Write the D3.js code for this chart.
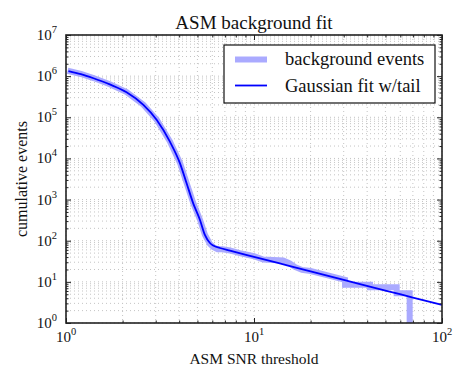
<!DOCTYPE html>
<html>
<head>
<meta charset="utf-8">
<script src="https://cdn.jsdelivr.net/npm/d3@7"></script>
<style>
  html, body { margin: 0; padding: 0; background: #fff; }
  svg { display: block; font-family: "Liberation Serif", "DejaVu Serif", serif; }
</style>
</head>
<body>
<svg id="chart" width="471" height="386"></svg>
<script>
// ---- data ----
const fitSNR   = [1.03, 1.2, 1.4, 1.71, 2.1, 2.58, 3.04, 3.57, 4.04, 4.38, 4.75, 5.16, 5.48, 5.83, 6.07, 6.59, 7.45, 10, 15, 20, 30, 50, 70, 100];
const fitCount = [1.33e6, 1.12e6, 8.9e5, 6.3e5, 4.05e5, 2.0e5, 8.6e4, 2.55e4, 7.6e3, 2.5e3, 810, 320, 138, 88, 76, 66.5, 57.2, 40.5, 25.2, 18.0, 11.2, 6.16, 4.16, 2.74];

const bgSNR   = [1.02, 1.2, 1.4, 1.71, 2.1, 2.58, 3.04, 3.57, 4.04, 4.38, 4.75, 5.16, 5.48, 5.83, 6.07, 6.4, 6.8, 7.45, 8.4, 10, 11.2, 14.3, 15.5, 16.5, 18, 20, 25, 30.5, 30.5, 41.4, 41.4, 57.4, 57.4, 67.3, 67.3];
const bgCount = [1.35e6, 1.13e6, 9.0e5, 6.35e5, 4.1e5, 2.02e5, 8.7e4, 2.6e4, 7.8e3, 2.55e3, 830, 325, 140, 84, 70, 62, 62, 58, 50, 42, 35, 33, 28, 23, 19.5, 18.3, 14.2, 11.2, 8.5, 8.5, 7.4, 7.4, 5.3, 5.3, 0];

const xMajor = [1, 10, 100];
const xMajorExp = ["0", "1", "2"];
const xMinor = [2, 3, 4, 5, 6, 7, 8, 9, 20, 30, 40, 50, 60, 70, 80, 90];
const yMajor = [1, 10, 100, 1e3, 1e4, 1e5, 1e6, 1e7];
const yMajorExp = ["0", "1", "2", "3", "4", "5", "6", "7"];
const yMinorMult = [2, 3, 4, 5, 6, 7, 8, 9];

const titleText = "ASM background fit";
const xLabel = "ASM SNR threshold";
const yLabel = "cumulative events";
const legendLabels = ["background events", "Gaussian fit w/tail"];

// ---- layout ----
const L = 66, R = 442, T = 35, B = 323;
const svg = d3.select("#chart");

const x = d3.scaleLog().domain([1, 100]).range([L, R]);
const y = d3.scaleLog().domain([1, 1e7]).range([B, T]);
const yClamp = y.copy().clamp(true);

const yMinor = [];
yMajor.slice(0, -1).forEach(d => yMinorMult.forEach(m => yMinor.push(d * m)));

// grid
const grid = svg.append("g").attr("stroke", "#c4c4c4").attr("stroke-width", 1)
  .attr("stroke-dasharray", "1,3");
xMajor.concat(xMinor).forEach(v => {
  grid.append("line").attr("x1", x(v)).attr("x2", x(v)).attr("y1", T).attr("y2", B);
});
yMajor.concat(yMinor).forEach(v => {
  grid.append("line").attr("x1", L).attr("x2", R).attr("y1", y(v)).attr("y2", y(v));
});

// clip
svg.append("clipPath").attr("id", "clip").append("rect")
  .attr("x", L).attr("y", T).attr("width", R - L).attr("height", B - T);

const bgData = bgSNR.map((s, i) => [s, bgCount[i]]);
const fitData = fitSNR.map((s, i) => [s, fitCount[i]]);

svg.append("path")
  .attr("clip-path", "url(#clip)")
  .attr("d", d3.line().x(d => x(d[0])).y(d => yClamp(d[1]))(bgData))
  .attr("fill", "none").attr("stroke", "#aaaaff").attr("stroke-width", 6)
  .attr("stroke-linejoin", "miter").attr("stroke-linecap", "butt");

svg.append("path")
  .attr("clip-path", "url(#clip)")
  .attr("d", d3.line().x(d => x(d[0])).y(d => y(d[1])).curve(d3.curveMonotoneX)(fitData))
  .attr("fill", "none").attr("stroke", "#0000ff").attr("stroke-width", 1.8);

// axes (ticks inward on all sides)
function styleAxis(g) {
  g.select(".domain").remove();
  g.selectAll(".tick line").attr("stroke", "#222").attr("stroke-width", 1);
  g.selectAll(".tick text").remove();
}
const MAJ = 5, MIN = 2.5;
svg.append("g").attr("transform", `translate(0,${B})`).call(d3.axisBottom(x).tickValues(xMajor).tickSize(-MAJ)).call(styleAxis);
svg.append("g").attr("transform", `translate(0,${B})`).call(d3.axisBottom(x).tickValues(xMinor).tickSize(-MIN)).call(styleAxis);
svg.append("g").attr("transform", `translate(0,${T})`).call(d3.axisTop(x).tickValues(xMajor).tickSize(-MAJ)).call(styleAxis);
svg.append("g").attr("transform", `translate(0,${T})`).call(d3.axisTop(x).tickValues(xMinor).tickSize(-MIN)).call(styleAxis);
svg.append("g").attr("transform", `translate(${L},0)`).call(d3.axisLeft(y).tickValues(yMajor).tickSize(-MAJ)).call(styleAxis);
svg.append("g").attr("transform", `translate(${L},0)`).call(d3.axisLeft(y).tickValues(yMinor).tickSize(-MIN)).call(styleAxis);
svg.append("g").attr("transform", `translate(${R},0)`).call(d3.axisRight(y).tickValues(yMajor).tickSize(-MAJ)).call(styleAxis);
svg.append("g").attr("transform", `translate(${R},0)`).call(d3.axisRight(y).tickValues(yMinor).tickSize(-MIN)).call(styleAxis);

// frame
svg.append("rect").attr("x", L).attr("y", T).attr("width", R - L).attr("height", B - T)
  .attr("fill", "none").attr("stroke", "#222").attr("stroke-width", 1.6);

// tick labels
const tickFont = 15, supFont = 10.5;
xMajor.forEach((v, i) => {
  const t = svg.append("text").attr("x", x(v)).attr("y", 342).attr("text-anchor", "middle")
    .attr("font-size", tickFont).attr("fill", "#111");
  t.append("tspan").text("10");
  t.append("tspan").attr("dy", -7).attr("font-size", supFont).text(xMajorExp[i]);
});
yMajor.forEach((v, i) => {
  const t = svg.append("text").attr("x", L - 9).attr("y", y(v) + 5).attr("text-anchor", "end")
    .attr("font-size", tickFont).attr("fill", "#111");
  t.append("tspan").text("10");
  t.append("tspan").attr("dy", -7).attr("font-size", supFont).text(yMajorExp[i]);
});

// title and axis labels
svg.append("text").attr("x", (L + R) / 2).attr("y", 29).attr("text-anchor", "middle")
  .attr("font-size", 19).attr("fill", "#111").text(titleText);
svg.append("text").attr("x", (L + R) / 2).attr("y", 364).attr("text-anchor", "middle")
  .attr("font-size", 15.5).attr("fill", "#111").text(xLabel);
svg.append("text").attr("transform", `translate(27,${(T + B) / 2}) rotate(-90)`)
  .attr("text-anchor", "middle").attr("font-size", 16).attr("fill", "#111").text(yLabel);

// legend
const lg = svg.append("g");
lg.append("rect").attr("x", 224).attr("y", 45).attr("width", 211).attr("height", 58)
  .attr("fill", "#fff").attr("stroke", "#111").attr("stroke-width", 1.2);
lg.append("line").attr("x1", 235).attr("x2", 267).attr("y1", 59.5).attr("y2", 59.5)
  .attr("stroke", "#aaaaff").attr("stroke-width", 6);
lg.append("line").attr("x1", 235).attr("x2", 267).attr("y1", 85.5).attr("y2", 85.5)
  .attr("stroke", "#0000ff").attr("stroke-width", 1.8);
lg.append("text").attr("x", 285).attr("y", 65).attr("font-size", 18.5).attr("fill", "#111").text(legendLabels[0]);
lg.append("text").attr("x", 285).attr("y", 92).attr("font-size", 18.5).attr("fill", "#111").text(legendLabels[1]);
</script>
</body>
</html>
